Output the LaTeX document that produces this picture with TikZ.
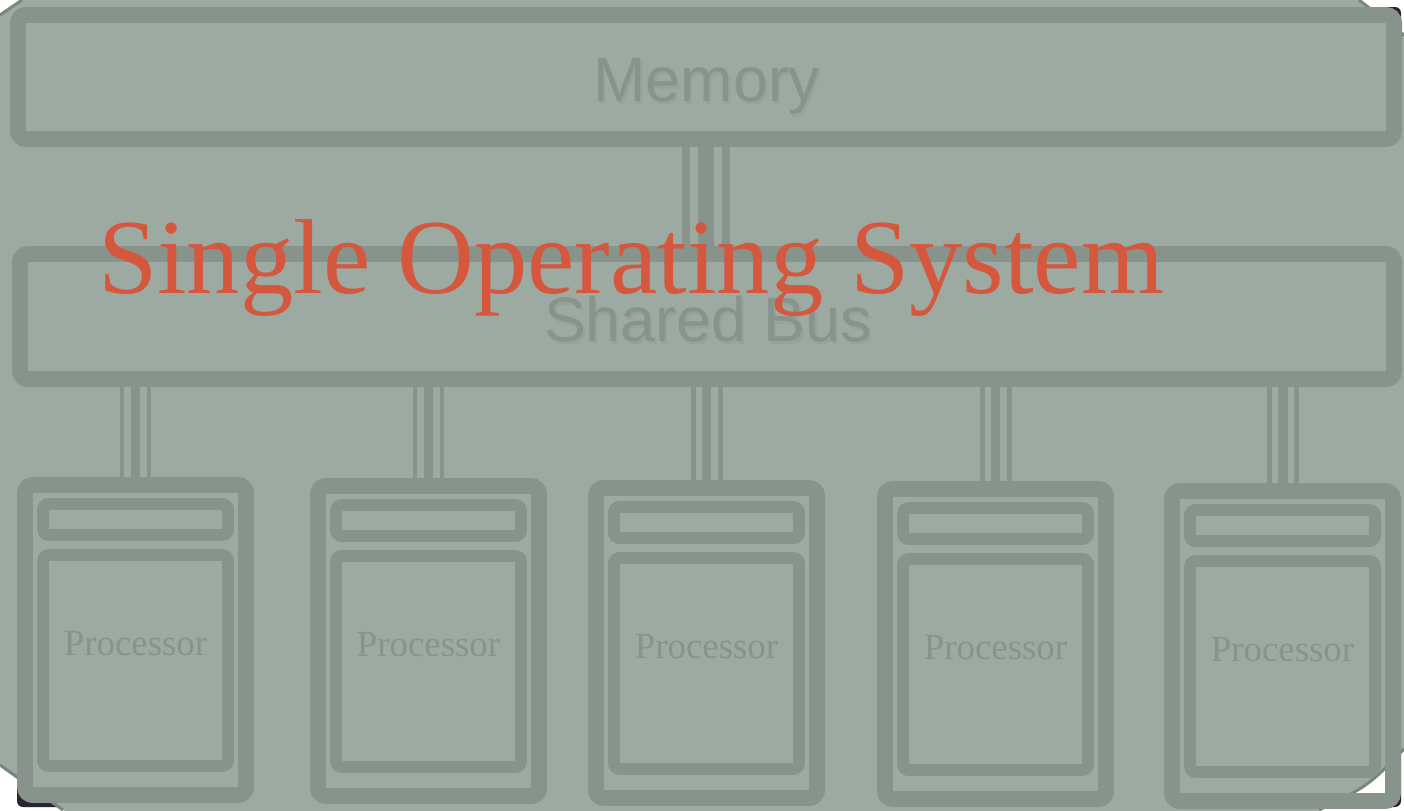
\documentclass[tikz,border=0pt]{standalone}
\usepackage{fontspec}
\setmainfont{Liberation Serif}
\newfontfamily\arialf{Liberation Sans}
\definecolor{overlayfill}{HTML}{9DAAA1}
\definecolor{overlayedge}{HTML}{77877B}
\definecolor{boxline}{HTML}{87938B}
\definecolor{txtcol}{HTML}{88948B}
\definecolor{darkwin}{HTML}{272733}
\definecolor{osred}{HTML}{D4573E}
\pgfdeclarelayer{bglayer}
\pgfdeclarelayer{midlayer}
\pgfsetlayers{bglayer,midlayer,main}
\tikzset{
  bigbox/.style={draw=boxline, line width=8pt, rounded corners=4pt, rectangle, inner sep=0pt},
  procouter/.style={draw=boxline, line width=8pt, rounded corners=4pt, rectangle, inner sep=0pt,
     minimum width=110.5bp, minimum height=155bp},
  procinner/.style={draw=boxline, line width=6pt, rounded corners=3pt, rectangle, inner sep=0pt,
     minimum width=92.5bp},
  sanslbl/.style={font=\arialf\fontsize{31.5}{36}\selectfont, text=txtcol, anchor=base, inner sep=0pt},
  shadowlbl/.style={text=black, text opacity=0.045},
  proclbl/.style={font=\fontsize{18.5}{21}\selectfont, text=txtcol, anchor=base, inner sep=0pt},
  oslbl/.style={font=\fontsize{53.5}{60}\selectfont, text=osred, anchor=base, inner sep=0pt},
  thinbar/.style={draw=boxline, line width=2.5pt},
  thickbar/.style={draw=boxline, line width=5pt},
  memthin/.style={draw=boxline, line width=4pt},
  memthick/.style={draw=boxline, line width=8pt},
  cutedge/.style={draw=overlayedge, line width=1.5pt}
}
\newcommand{\drawwindow}{%
  \fill[darkwin, rounded corners=3pt] (17,7) rectangle (1401,807);
  \fill[white] (31,21) rectangle (1386,793);}
\begin{document}
\begin{tikzpicture}[x=0.5bp,y=-0.5bp]
\useasboundingbox (0,0) rectangle (1404,810);
\begin{pgfonlayer}{bglayer}
  \fill[white] (-4,-4) rectangle (1408,814);
  \fill[overlayfill] (-4,17.7) -- (26,-4) -- (1354,-4) -- (1408,38) -- (1408,745)
      .. controls (1368,786) .. (1313,814) -- (69,814) -- (-4,762) -- cycle;
  \begin{scope}
    \clip (1359,0) -- (1404,0) -- (1404,35) -- cycle;
    \drawwindow
  \end{scope}
  \begin{scope}
    \clip (1404,749) .. controls (1368,786) .. (1319,810) -- (1404,810) -- cycle;
    \drawwindow
  \end{scope}
  \begin{scope}
    \clip (0,765) -- (63,810) -- (0,810) -- cycle;
    \drawwindow
  \end{scope}
  \draw[cutedge] (0,15) -- (22,0);
  \draw[cutedge] (1359,0) -- (1404,35);
  \draw[cutedge] (1404,749) .. controls (1368,786) .. (1319,810);
  \draw[cutedge] (63,810) -- (0,765);
\end{pgfonlayer}

% Memory and bus
\node[bigbox, minimum width=688bp, minimum height=62bp] (mem) at (706,77) {};
\node[bigbox, minimum width=687bp, minimum height=62.5bp] (bus) at (707,316.5) {};
\node[sanslbl, shadowlbl] (memsh) at (709,104) {Memory};
\node[sanslbl] (memlbl) at (707,101) {Memory};
\node[sanslbl, shadowlbl] (bussh) at (710,344) {Shared Bus};
\node[sanslbl] (buslbl) at (708,341) {Shared Bus};

% Processors
\foreach \i/\cx/\ty in {1/135.5/477, 2/428.5/478, 3/706.5/480, 4/995.5/481, 5/1282.5/483} {
  \node[procouter] (p\i) at (\cx,\ty+163) {};
  \node[procinner, minimum height=15.5bp] (pb\i) at (\cx,\ty+42.5) {};
  \node[procinner, minimum height=105.5bp] (pc\i) at (\cx,\ty+183.5) {};
  \node[proclbl] (pt\i) at (\cx,\ty+178) {Processor};
  \coordinate (pl\i) at ([xshift=-6.75bp]p\i.north);
  \coordinate (pr\i) at ([xshift=6.75bp]p\i.north);
}

\begin{pgfonlayer}{midlayer}
  \coordinate (ml) at ([xshift=-10bp]mem.south);
  \coordinate (mr) at ([xshift=10bp]mem.south);
  \draw[memthin] (ml) -- (ml |- bus.north);
  \draw[memthick] (mem.south) -- (mem.south |- bus.north);
  \draw[memthin] (mr) -- (mr |- bus.north);
  \foreach \i in {1,...,5} {
    \draw[thinbar] (pl\i) -- (pl\i |- bus.south);
    \draw[thickbar] (p\i.north) -- (p\i.north |- bus.south);
    \draw[thinbar] (pr\i) -- (pr\i |- bus.south);
  }
\end{pgfonlayer}

\node[oslbl] (os) at (631,293) {Single Operating System};
\end{tikzpicture}
\end{document}
